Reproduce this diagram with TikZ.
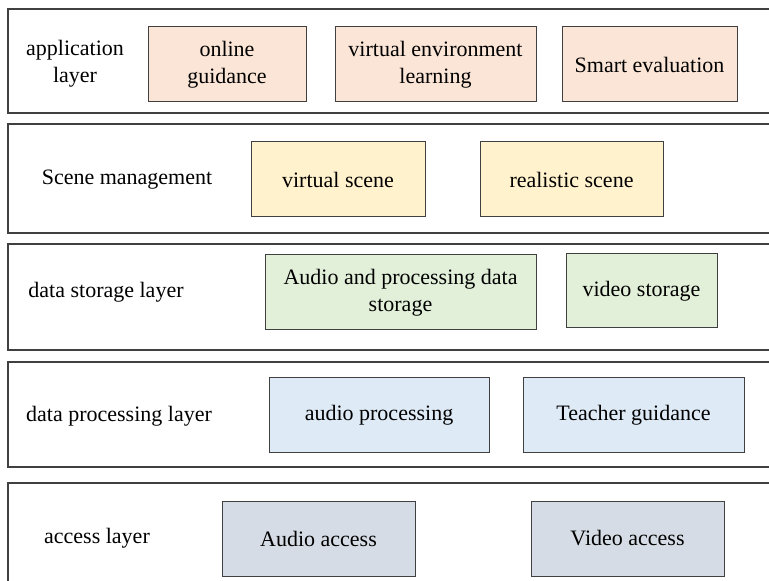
\documentclass[tikz,border=0pt]{standalone}
\usepackage{fontspec}
\setmainfont{Liberation Serif}
\usepackage{xcolor}
\usetikzlibrary{positioning}

\definecolor{appfill}{HTML}{FBE5D6}
\definecolor{scenefill}{HTML}{FFF2CC}
\definecolor{storefill}{HTML}{E2F0D9}
\definecolor{procfill}{HTML}{DEEBF7}
\definecolor{accfill}{HTML}{D6DCE5}
\definecolor{edge}{HTML}{404040}

\begin{document}
\begin{tikzpicture}[
    % one unit is one pixel of the reference, y runs down
    x=0.5pt, y=-0.5pt,
    base/.style={rectangle, align=center, font=\fontsize{11}{13.5}\selectfont, inner sep=0pt},
    layerframe/.style={draw=edge, line width=0.7pt, fill=white},
    layerlabel/.style={base},
    % the coloured boxes inside each layer
    boxbase/.style={base, draw=edge, line width=0.5pt, minimum height=37.5pt},
    appbox/.style={boxbase, fill=appfill},
    scenebox/.style={boxbase, fill=scenefill},
    storebox/.style={boxbase, fill=storefill},
    procbox/.style={boxbase, fill=procfill},
    accbox/.style={boxbase, fill=accfill}
]
\useasboundingbox (0,0) rectangle (769,581);

%% ── Layer frames ────────────────────────────────────────────
\draw [layerframe] (8,9)   rectangle (790,113);
\draw [layerframe] (8,124) rectangle (790,233);
\draw [layerframe] (8,244) rectangle (790,350);
\draw [layerframe] (8,362) rectangle (790,467);
\draw [layerframe] (8,483) rectangle (790,600);

%% ── Application layer ───────────────────────────────────────
\node (applbl) [layerlabel] at (75,64) {application\\layer};
\node (online) [appbox, minimum width=79pt] at (227,64.5) {online\\guidance};
\node (venv) [appbox, minimum width=100.5pt] at (435.5,64.5) {virtual environment\\learning};
\node (smart) [appbox, minimum width=87.5pt] at (649.5,64.5) {Smart evaluation};

%% ── Scene management ────────────────────────────────────────
\node (scenelbl) [layerlabel] at (127,180) {Scene management};
\node (vscene) [scenebox, minimum width=87pt] at (338,179.5) {virtual scene};
\node (rscene) [scenebox, minimum width=91.5pt] at (571.5,179.5) {realistic scene};

%% ── Data storage layer ──────────────────────────────────────
\node (storelbl) [layerlabel] at (106,292) {data storage layer};
\node (astore) [storebox, minimum width=135.5pt] at (400.5,292.5) {Audio and processing data\\storage};
\node (vstore) [storebox, minimum width=75.5pt, minimum height=37pt] at (641.5,291) {video storage};

%% ── Data processing layer ───────────────────────────────────
\node (proclbl) [layerlabel] at (119,416) {data processing layer};
\node (aproc) [procbox, minimum width=110pt] at (379,415.5) {audio processing};
\node (teach) [procbox, minimum width=110.5pt] at (633.5,415.5) {Teacher guidance};

%% ── Access layer ────────────────────────────────────────────
\node (acclbl) [layerlabel] at (97,538) {access layer};
\node (aacc) [accbox, minimum width=96.5pt] at (318.5,538.5) {Audio access};
\node (vacc) [accbox, minimum width=96.5pt] at (627.5,538.5) {Video access};

\end{tikzpicture}
\end{document}
